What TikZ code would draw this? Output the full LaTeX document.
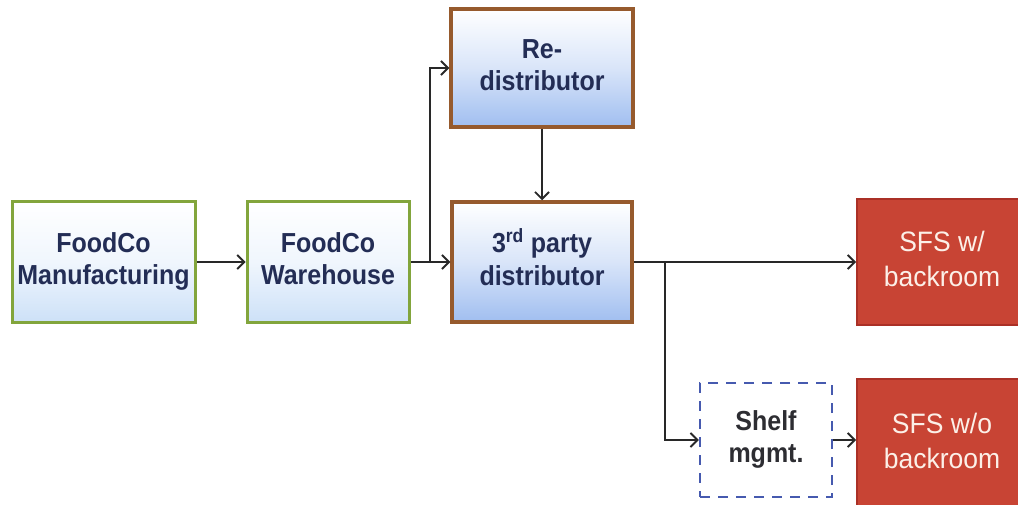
\documentclass[tikz,border=0pt]{standalone}
\usepackage{fontspec}
\usepackage{graphicx}
\setmainfont{Liberation Sans}
\usetikzlibrary{arrows.meta}
\definecolor{navy}{RGB}{35,45,85}
\definecolor{grn}{RGB}{130,165,60}
\definecolor{brn}{RGB}{150,90,45}
\definecolor{pale}{RGB}{205,225,248}
\definecolor{lblue}{RGB}{160,190,240}
\definecolor{redf}{RGB}{200,68,52}
\definecolor{redd}{RGB}{170,48,38}
\definecolor{dblue}{RGB}{70,90,175}
\definecolor{arrc}{RGB}{40,40,40}
\definecolor{wtxt}{RGB}{252,240,232}
\newcommand{\vstretch}[2]{\scalebox{1}[#1]{\begin{tabular}{@{}c@{}}#2\end{tabular}}}
\tikzset{
  boxtext/.style={font=\bfseries\fontsize{25}{29.5}\selectfont, text=navy, align=center},
  greenbox/.style={boxtext, rectangle, draw=grn, line width=3pt, top color=white, bottom color=pale, middle color=white!70!pale},
  brownbox/.style={boxtext, rectangle, draw=brn, line width=3.5pt, top color=white, bottom color=lblue, middle color=white!60!lblue},
  redbox/.style={rectangle, draw=redd, line width=2pt, fill=redf, text=wtxt, align=center, font=\fontsize{26.5}{33}\selectfont},
  shelfbox/.style={rectangle, draw=dblue, line width=2.5pt, dash pattern=on 10pt off 8pt, text={rgb,255:red,45;green,45;blue,50}, align=center, font=\bfseries\fontsize{25}{29.5}\selectfont},
  arr/.style={draw=arrc, line width=1.8pt, -{Straight Barb[length=7pt,width=14pt,line width=1.8pt]}}
}
\begin{document}
\begin{tikzpicture}[x=1pt,y=-1pt]
\useasboundingbox (0,0) rectangle (1018,505);
\node[greenbox, minimum width=183pt, minimum height=120pt] (mfg) at (103.5,262) {\vstretch{1.1}{FoodCo\\Manufacturing}};
\node[greenbox, minimum width=162pt, minimum height=120pt] (wh) at (328,262) {\vstretch{1.1}{FoodCo\\Warehouse}};
\node[brownbox, minimum width=182pt, minimum height=118pt] (re) at (542,68) {\vstretch{1.1}{Re-\\distributor}};
\node[brownbox, minimum width=180pt, minimum height=120pt] (tp) at (542,262) {\vstretch{1.1}{3\textsuperscript{rd} party\\distributor}};
\node[redbox, minimum width=170pt, minimum height=126pt] (sfs1) at (942,262) {\vstretch{1.06}{SFS w/\\backroom}};
\node[shelfbox, minimum width=132pt, minimum height=114pt] (shelf) at (766,440) {\vstretch{1.1}{Shelf\\mgmt.}};
\node[redbox, minimum width=170pt, minimum height=130pt] (sfs2) at (942,444) {\vstretch{1.06}{SFS w/o\\backroom}};
\coordinate (b1) at (430,262);
\coordinate (b2) at (665,262);
\draw[arr] (mfg.east) -- (wh.west);
\draw[arr] (wh.east) -- (tp.west);
\draw[arr] (b1) |- (re.west);
\draw[arr] (re.south) -- (tp.north);
\draw[arr] (tp.east) -- (sfs1.west);
\draw[arr] (b2) |- (shelf.west);
\draw[arr] (shelf.east) -- (shelf.east -| sfs2.west);
\end{tikzpicture}
\end{document}
